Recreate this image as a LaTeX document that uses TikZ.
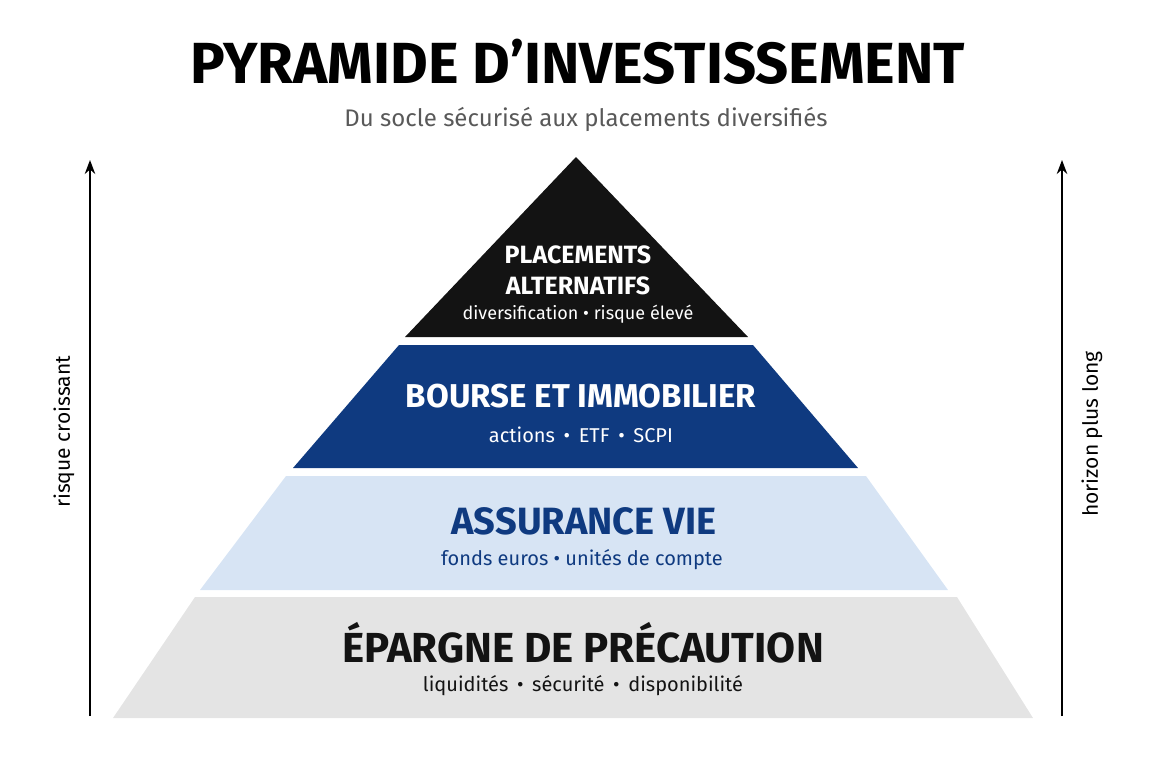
\documentclass[tikz,border=0pt]{standalone}
\usepackage{fontspec}
\setmainfont{Fira Sans}
\usetikzlibrary{positioning, arrows.meta}
\definecolor{navy}{HTML}{0F3A80}
\definecolor{paleblue}{HTML}{D7E4F4}
\definecolor{palegray}{HTML}{E4E4E4}
\definecolor{darkink}{HTML}{131313}
\begin{document}
\begin{tikzpicture}[
        x=0.5pt, y=-0.5pt,
        head/.style={font=\fontsize{19}{22}\selectfont\bfseries, align=center},
        sub/.style={font=\fontsize{10}{12}\selectfont},
        arrow/.style={draw, thick, -{Stealth[length=7pt]}},
        side/.style={font=\fontsize{10.5}{12}\selectfont, rotate=90}
    ]
    \useasboundingbox (0,0) rectangle (1152,768);

    % Titre
    \node (title) at (578,62) {\fontsize{29}{32}\selectfont\bfseries PYRAMIDE D’INVESTISSEMENT};
    \node (subtitle) at (586,119) [text=black!65] {\fontsize{12}{14}\selectfont Du socle sécurisé aux placements diversifiés};

    % Etages
    \fill[palegray] (195,597) -- (957,597) -- (1033,718) -- (113,718) -- cycle;
    \fill[paleblue] (286,476) -- (866,476) -- (948,590) -- (200,590) -- cycle;
    \fill[navy] (399,345) -- (753,345) -- (858,468) -- (293,468) -- cycle;
    \fill[darkink] (576,157) -- (748,337) -- (405,337) -- cycle;

    % Textes
    \node (base) at (583,643) [head, text=darkink, font=\fontsize{21}{24}\selectfont\bfseries] {ÉPARGNE DE PRÉCAUTION};
    \node (basesub) at (583,686) [sub, text=darkink] {liquidités \,•\, sécurité \,•\, disponibilité};
    \node (life) at (584,521) [head, text=navy] {ASSURANCE VIE};
    \node (lifesub) at (582,560) [sub, text=navy] {fonds euros • unités de compte};
    \node (stock) at (581,396) [head, text=white, font=\fontsize{16.5}{20}\selectfont\bfseries] {BOURSE ET IMMOBILIER};
    \node (stocksub) at (581,435) [sub, text=white] {actions \,•\, ETF \,•\, SCPI};
    \node (alt) at (578,270) [head, text=white, font=\fontsize{12.5}{15.5}\selectfont\bfseries] {PLACEMENTS\\ALTERNATIFS};
    \node (altsub) at (578,314) [sub, text=white, font=\fontsize{9}{11}\selectfont] {diversification • risque élevé};

    % Axes
    \coordinate (lbot) at (90,716);
    \coordinate (ltop) at (90,160);
    \coordinate (rbot) at (1062,716);
    \coordinate (rtop) at (1062,160);
    \draw[arrow] (lbot) -- (ltop);
    \draw[arrow] (rbot) -- (rtop);
    \node (risk) at (64,432) [side] {risque croissant};
    \node (horizon) at (1092,434) [side] {horizon plus long};
\end{tikzpicture}
\end{document}
